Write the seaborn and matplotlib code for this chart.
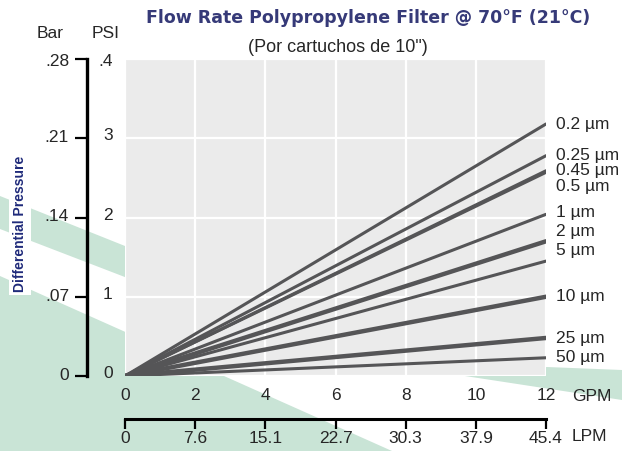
import matplotlib
matplotlib.use('Agg')
import matplotlib.pyplot as plt
import matplotlib.transforms as mtransforms
from matplotlib.patches import Polygon
import pandas as pd
import seaborn as sns

# values: pressure drop (PSI) at 0 and 12 GPM for each filter grade
filters = ['0.2 µm', '0.25 µm', '0.45 µm', '0.5 µm', '1 µm', '2 µm', '5 µm', '10 µm', '25 µm', '50 µm']
gpm_points = [0, 12]
psi_at_0 = [0, 0, 0, 0, 0, 0, 0, 0, 0, 0]
psi_at_12 = [3.18, 2.78, 2.59, 2.57, 2.04, 1.70, 1.45, 1.00, 0.48, 0.23]

gpm_ticks = [0, 2, 4, 6, 8, 10, 12]
lpm_labels = ['0', '7.6', '15.1', '22.7', '30.3', '37.9', '45.4']
psi_ticks = [0, 1, 2, 3, 4]
psi_labels = ['0', '1', '2', '3', '.4']
bar_labels = ['0', '.07', '.14', '.21', '.28']

# long form table for seaborn
rows = []
for f, a, b in zip(filters, psi_at_0, psi_at_12):
    rows.append((f, gpm_points[0], a))
    rows.append((f, gpm_points[1], b))
df = pd.DataFrame(rows, columns=['filtro', 'gpm', 'psi'])

sns.set_style('white')
plt.rcParams['font.family'] = ['Liberation Sans', 'DejaVu Sans']

W, H = 622, 452
FS = 12.5
fig = plt.figure(figsize=(W / 100, H / 100), dpi=100)

# background decoration (pixel coordinates, y down)
bg = fig.add_axes([0, 0, 1, 1], zorder=-1)
bg.set_xlim(0, W)
bg.set_ylim(H, 0)
bg.axis('off')
green = '#c9e4d6'
for pts in [
    [(0, 197), (130, 249), (130, 280), (0, 230)],
    [(0, 277), (392, 452), (0, 452)],
    [(465, 377), (547, 368), (622, 371), (622, 401)],
]:
    bg.add_patch(Polygon(pts, closed=True, facecolor=green, edgecolor='none'))

bg.text(368, 18, 'Flow Rate Polypropylene Filter @ 70°F (21°C)', ha='center', va='center',
        fontsize=12.5, fontweight='bold', color='#363a78', family=['DejaVu Sans'])
bg.text(338, 47, '(Por cartuchos de 10")', ha='center', va='center', fontsize=13)
bg.text(50, 33, 'Bar', ha='center', va='center', fontsize=FS)
bg.text(106, 33, 'PSI', ha='center', va='center', fontsize=FS)
bg.text(20, 224, 'Differential Pressure', rotation=90, ha='center', va='center',
        fontsize=10, fontweight='bold', color='#1f2a7a',
        family=['Liberation Sans Narrow', 'Liberation Sans'],
        bbox=dict(facecolor='white', edgecolor='none', pad=3))
bg.text(572, 397, 'GPM', ha='left', va='center', fontsize=FS)
bg.text(572, 437, 'LPM', ha='left', va='center', fontsize=FS)

# main plot
ax = fig.add_axes([125 / W, 1 - 377 / H, 421 / W, 317 / H])
ax.set_facecolor('#ebebeb')
thick = {'2 µm', '10 µm', '25 µm'}
sns.lineplot(data=df, x='gpm', y='psi', hue='filtro', size='filtro',
             palette={f: '#555557' for f in filters},
             sizes={f: (3.2 if f in thick else 2.2) for f in filters},
             legend=False, ax=ax)
ax.set_xlim(0, 12)
ax.set_ylim(0, 4)
ax.set_xlabel('')
ax.set_ylabel('')
ax.grid(True, color='white', lw=1.6)
ax.set_axisbelow(True)
for s in ax.spines.values():
    s.set_visible(False)

ax.set_xticks(gpm_ticks)
ax.set_xticklabels([str(t) for t in gpm_ticks])
ax.tick_params(axis='x', length=0, pad=8, labelsize=FS)
ax.set_yticks(psi_ticks)
ax.set_yticklabels(psi_labels)
ax.tick_params(axis='y', length=0, pad=9, labelsize=FS)
up = mtransforms.ScaledTranslation(0, 5 / 100, fig.dpi_scale_trans)
for lab in ax.get_yticklabels()[:-1]:
    lab.set_transform(lab.get_transform() + up)

# bar scale on the left
sec = ax.secondary_yaxis(-0.09)
sec.set_yticks(psi_ticks)
sec.set_yticklabels(bar_labels)
sec.spines['left'].set_linewidth(2.4)
sec.spines['left'].set_color('black')
sec.tick_params(axis='y', length=9, width=1.6, pad=4, labelsize=FS, color='black')
up2 = mtransforms.ScaledTranslation(0, 3 / 100, fig.dpi_scale_trans)
for lab in sec.get_yticklabels()[:-1]:
    lab.set_transform(lab.get_transform() + up2)

# LPM scale below
lpm = ax.secondary_xaxis(-0.136)
lpm.set_xticks(gpm_ticks)
lpm.set_xticklabels(lpm_labels)
lpm.spines['bottom'].set_linewidth(2.2)
lpm.spines['bottom'].set_color('black')
lpm.tick_params(axis='x', length=7, width=1.6, pad=1, labelsize=FS, color='black')

# filter labels at the right end
label_psi = [3.18, 2.80, 2.60, 2.40, 2.07, 1.83, 1.59, 1.01, 0.49, 0.24]
for f, y in zip(filters, label_psi):
    ax.annotate(f, xy=(12, y), xytext=(7, 0), textcoords='offset points',
                ha='left', va='center', fontsize=FS, annotation_clip=False)

fig.savefig('out.png', dpi=100)
